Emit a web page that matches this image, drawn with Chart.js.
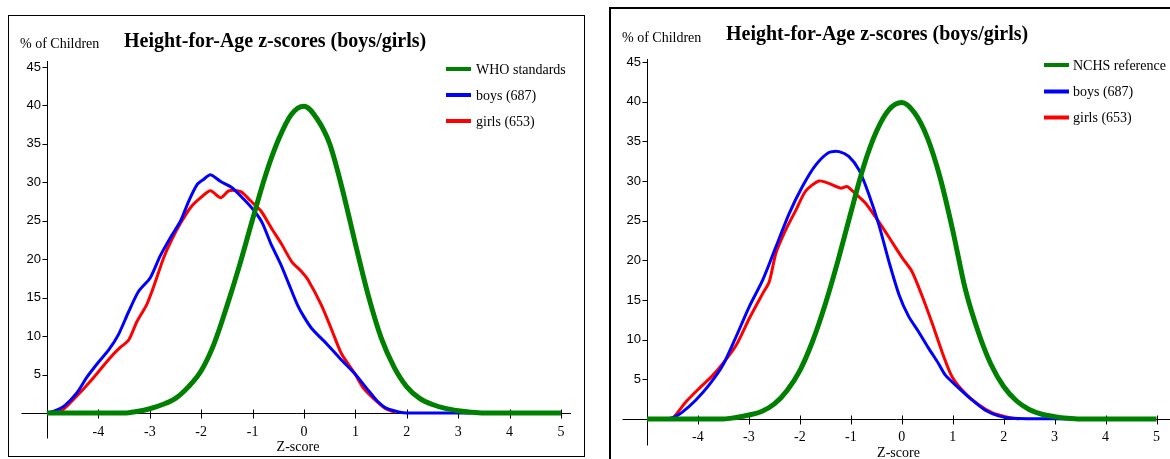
<!DOCTYPE html>
<html><head><meta charset="utf-8">
<script src="https://cdn.jsdelivr.net/npm/chart.js@4.4.1/dist/chart.umd.min.js"></script>
<style>
html,body{margin:0;padding:0;background:#fff;width:1170px;height:459px;overflow:hidden;position:relative}
#b1{position:absolute;left:8px;top:15px;width:577px;height:442px;border:1px solid #000;box-sizing:border-box}
#b2{position:absolute;left:609px;top:7px;width:620px;height:500px;border:2px solid #000;box-sizing:border-box}
#w1{position:absolute;left:0;top:0;width:600px;height:459px}
#w2{position:absolute;left:600px;top:0;width:570px;height:459px}
canvas{display:block}
</style></head>
<body>
<div id="b1"></div><div id="b2"></div>
<div id="w1"><canvas id="c1" width="600" height="459"></canvas></div>
<div id="w2"><canvas id="c2" width="570" height="459"></canvas></div>
<script>
// ---- data ----
const titleText = 'Height-for-Age z-scores (boys/girls)';
const yAxisText = '% of Children';
const xAxisText = 'Z-score';
const xTicks = [-4, -3, -2, -1, 0, 1, 2, 3, 4, 5];
const yTicks = [5, 10, 15, 20, 25, 30, 35, 40, 45];

// Left panel (WHO standards)
const whoZ   = [-5, -3.5, -3.25, -3.0, -2.75, -2.5, -2.25, -2.0, -1.75, -1.5, -1.25, -1.0, -0.75, -0.5, -0.25, 0, 0.25, 0.5, 0.75, 1.0, 1.25, 1.5, 1.75, 2.0, 2.25, 2.5, 2.75, 3.0, 3.25, 3.5, 5];
const whoPct = [0, 0, 0.2, 0.55, 1.1, 1.9, 3.4, 5.5, 9.0, 13.9, 19.3, 25.2, 30.9, 35.5, 38.8, 39.9, 38.3, 35.0, 29.0, 22.0, 15.3, 9.8, 6.0, 3.4, 1.9, 1.1, 0.6, 0.3, 0.1, 0, 0];
const boysZ1   = [-5, -4.84, -4.65, -4.42, -4.23, -4.0, -3.80, -3.61, -3.41, -3.22, -2.99, -2.80, -2.60, -2.40, -2.24, -2.08, -1.95, -1.82, -1.62, -1.40, -1.17, -0.97, -0.81, -0.65, -0.45, -0.29, -0.13, 0.0, 0.15, 0.44, 0.70, 0.99, 1.22, 1.42, 1.61, 1.87, 2.0, 3.25];
const boysPct1 = [0, 0.3, 1.0, 2.6, 4.6, 6.6, 8.2, 10.2, 13.2, 15.8, 17.6, 20.4, 22.8, 25.0, 27.6, 29.7, 30.4, 31.0, 30.1, 29.3, 27.8, 26.3, 24.7, 22.1, 19.3, 16.7, 14.1, 12.5, 11.0, 9.0, 7.1, 5.1, 3.2, 1.6, 0.6, 0.1, 0, 0];
const girlsZ1   = [-4.78, -4.65, -4.42, -4.16, -3.97, -3.77, -3.58, -3.41, -3.25, -3.06, -2.89, -2.73, -2.57, -2.40, -2.21, -2.01, -1.82, -1.62, -1.46, -1.23, -1.04, -0.84, -0.63, -0.44, -0.24, -0.05, 0.08, 0.34, 0.54, 0.73, 0.99, 1.16, 1.35, 1.58, 1.77];
const girlsPct1 = [0, 0.65, 2.2, 4.1, 5.6, 7.2, 8.5, 9.5, 11.9, 14.1, 17.1, 20.2, 22.6, 24.7, 26.7, 28.0, 28.9, 28.0, 28.9, 28.8, 27.6, 26.3, 24.0, 22.0, 19.7, 18.4, 17.3, 14.0, 10.8, 7.7, 5.1, 3.2, 1.9, 0.6, 0.1];

// Right panel (NCHS reference)
const nchsZ   = [-5, -3.5, -3.25, -3.0, -2.75, -2.5, -2.25, -2.0, -1.75, -1.5, -1.25, -1.0, -0.75, -0.5, -0.25, 0, 0.25, 0.5, 0.75, 1.0, 1.25, 1.5, 1.75, 2.0, 2.25, 2.5, 2.75, 3.0, 3.25, 3.5, 5];
const nchsPct = [0, 0, 0.2, 0.5, 0.95, 1.9, 3.6, 6.1, 9.8, 14.5, 20.0, 26.0, 31.8, 36.2, 39.0, 39.9, 38.6, 35.5, 30.5, 23.8, 16.3, 11.0, 6.9, 4.1, 2.3, 1.2, 0.6, 0.3, 0.1, 0, 0];
const boysZ2   = [-4.6, -4.45, -4.30, -4.04, -3.78, -3.51, -3.25, -2.99, -2.73, -2.47, -2.21, -1.95, -1.69, -1.43, -1.23, -1.04, -0.84, -0.65, -0.45, -0.25, -0.05, 0.13, 0.33, 0.52, 0.72, 0.86, 1.12, 1.38, 1.64, 1.90, 2.16, 3.3];
const boysPct2 = [0, 0.3, 0.9, 2.4, 4.3, 6.8, 10.4, 14.2, 17.5, 21.7, 25.9, 29.3, 32.0, 33.6, 33.7, 33.1, 31.4, 28.4, 24.5, 19.8, 15.6, 13.0, 11.0, 9.0, 7.0, 5.5, 3.9, 2.4, 1.1, 0.4, 0.1, 0];
const girlsZ2   = [-4.55, -4.49, -4.23, -3.97, -3.71, -3.51, -3.25, -2.99, -2.73, -2.60, -2.47, -2.28, -2.08, -1.89, -1.63, -1.43, -1.20, -1.07, -0.91, -0.71, -0.52, -0.26, 0.0, 0.20, 0.40, 0.60, 0.80, 0.99, 1.25, 1.51, 1.77, 2.03, 2.3];
const girlsPct2 = [0, 0.1, 2.2, 3.9, 5.5, 7.0, 9.3, 12.7, 15.8, 17.3, 20.9, 23.8, 26.3, 28.7, 30.0, 29.7, 29.1, 29.3, 28.4, 27.2, 25.5, 23.0, 20.4, 18.6, 15.5, 12.0, 8.3, 5.3, 3.2, 1.8, 0.8, 0.3, 0];

const GREEN = '#008000', BLUE = '#0000ff', RED = '#ff0000';
const pts = (xs, ys) => xs.map((x, i) => ({x: x, y: ys[i]}));

function decor(cfg) {
  return {
    id: 'decor',
    beforeDatasetsDraw(chart) {
      const ctx = chart.ctx, xs = chart.scales.x, ys = chart.scales.y;
      const x0 = Math.round(xs.getPixelForValue(-5)) + 0.5;
      const y0 = Math.round(ys.getPixelForValue(0)) + 0.5;
      const yTop = ys.getPixelForValue(45) - cfg.yTop;
      ctx.save();
      ctx.strokeStyle = '#000'; ctx.lineWidth = 1;
      ctx.beginPath();
      ctx.moveTo(x0 - cfg.axL, y0); ctx.lineTo(xs.getPixelForValue(5) + cfg.axR, y0);
      ctx.moveTo(x0, yTop); ctx.lineTo(x0, y0 + cfg.yBot);
      xTicks.forEach(v => { const px = Math.round(xs.getPixelForValue(v)) + 0.5; ctx.moveTo(px, y0 - 4); ctx.lineTo(px, y0 + 5); });
      yTicks.forEach(v => { const py = Math.round(ys.getPixelForValue(v)) + 0.5; ctx.moveTo(x0 - 5, py); ctx.lineTo(x0, py); });
      ctx.stroke();
      ctx.restore();
    },
    afterDraw(chart) {
      const ctx = chart.ctx;
      ctx.save();
      ctx.fillStyle = '#000';
      ctx.textBaseline = 'middle';
      ctx.textAlign = 'left';
      ctx.font = 'bold 20px "Liberation Serif"';
      ctx.fillText(titleText, cfg.titleX, cfg.titleY);
      ctx.font = '14px "Liberation Serif"';
      ctx.fillText(yAxisText, cfg.ylabX, cfg.ylabY);
      ctx.textAlign = 'center';
      ctx.fillText(xAxisText, cfg.zX, cfg.zY);
      ctx.textAlign = 'left';
      chart.data.datasets.forEach((ds, i) => {
        const ly = cfg.legY[i];
        ctx.strokeStyle = ds.borderColor; ctx.lineWidth = 4;
        ctx.beginPath(); ctx.moveTo(cfg.legX, ly); ctx.lineTo(cfg.legX + 25, ly); ctx.stroke();
        ctx.fillText(ds.label, cfg.legTextX, ly + 1);
      });
      ctx.restore();
    }
  };
}

function makeChart(id, refLabel, refZ, refPct, bZ, bPct, gZ, gPct, L) {
  return new Chart(document.getElementById(id), {
    type: 'line',
    data: {
      datasets: [
        {label: refLabel, data: pts(refZ, refPct), borderColor: GREEN, borderWidth: 5, pointRadius: 0, cubicInterpolationMode: 'monotone', clip: 10},
        {label: 'boys (687)', data: pts(bZ, bPct), borderColor: BLUE, borderWidth: 3, pointRadius: 0, tension: 0.25, clip: 10},
        {label: 'girls (653)', data: pts(gZ, gPct), borderColor: RED, borderWidth: 3, pointRadius: 0, tension: 0.25, clip: 10}
      ]
    },
    options: {
      responsive: false, animation: false, devicePixelRatio: 1,
      layout: {padding: L.pad},
      plugins: {legend: {display: false}, title: {display: false}, tooltip: {enabled: false}},
      scales: {
        x: {
          type: 'linear', min: -5, max: 5,
          grid: {display: false, drawTicks: false}, border: {display: false},
          afterBuildTicks: s => { s.ticks = xTicks.map(v => ({value: v})); },
          afterFit: s => { s.height = L.xH; },
          ticks: {padding: L.xPad, color: '#000', font: {family: 'Liberation Serif', size: 14}, maxRotation: 0, autoSkip: false}
        },
        y: {
          type: 'linear', min: 0, max: 45,
          grid: {display: false, drawTicks: false}, border: {display: false},
          afterBuildTicks: s => { s.ticks = yTicks.map(v => ({value: v})); },
          afterFit: s => { s.width = 40; },
          ticks: {padding: 6, color: '#000', font: {family: 'Liberation Sans', size: 13}, autoSkip: false}
        }
      }
    },
    plugins: [decor(L.d)]
  });
}

makeChart('c1', 'WHO standards', whoZ, whoPct, boysZ1, boysPct1, girlsZ1, girlsPct1, {
  pad: {left: 7, right: 39, top: 67, bottom: 0}, xH: 46, xPad: 11,
  d: {axL: 26, axR: 10, yTop: 6, yBot: 25, titleX: 124, titleY: 42, ylabX: 20, ylabY: 44,
      legX: 446, legTextX: 476, legY: [69, 95, 121], zX: 298, zY: 447}
});
makeChart('c2', 'NCHS reference', nchsZ, nchsPct, boysZ2, boysPct2, girlsZ2, girlsPct2, {
  pad: {left: 7, right: 12, top: 62, bottom: 0}, xH: 40, xPad: 10,
  d: {axL: 25, axR: 20, yTop: 3, yBot: 26, titleX: 126, titleY: 35, ylabX: 22, ylabY: 38,
      legX: 444, legTextX: 473, legY: [65, 91.5, 117.5], zX: 298.5, zY: 453}
});
</script>
</body></html>
